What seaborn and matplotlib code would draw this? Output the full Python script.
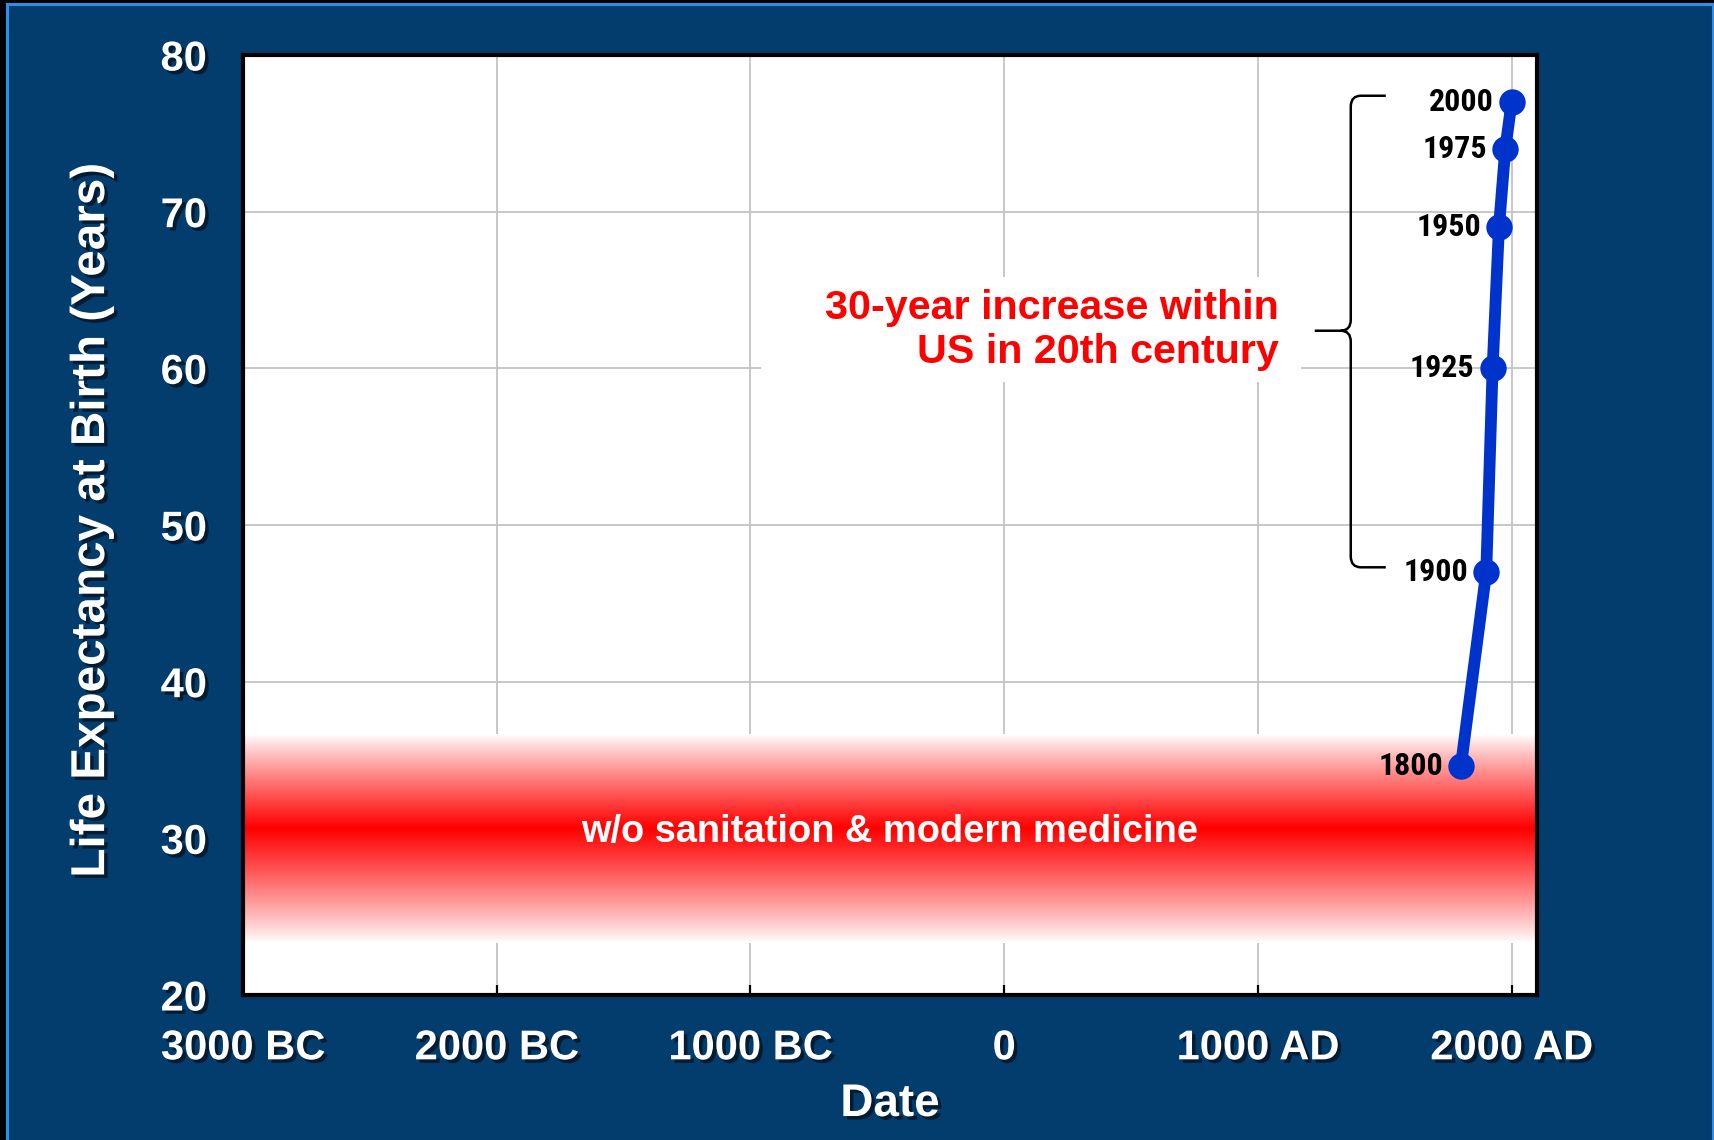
import numpy as np
import matplotlib
matplotlib.use("Agg")
import matplotlib.pyplot as plt
import seaborn as sns
from matplotlib import patheffects as pe
from matplotlib.patches import Rectangle, PathPatch
from matplotlib.path import Path
from matplotlib.colors import LinearSegmentedColormap
import matplotlib.transforms as mtransforms
from matplotlib import font_manager as fm

# ---------------- data ----------------
years = [1800, 1900, 1925, 1950, 1975, 2000]
life_expectancy = [34.6, 47, 60, 69, 74, 77]
point_labels = ["1800", "1900", "1925", "1950", "1975", "2000"]

x_ticks = [-3000, -2000, -1000, 0, 1000, 2000]
x_tick_labels = ["3000 BC", "2000 BC", "1000 BC", "0", "1000 AD", "2000 AD"]
y_ticks = [20, 30, 40, 50, 60, 70, 80]
y_tick_labels = ["20", "30", "40", "50", "60", "70", "80"]

band_low, band_peak, band_high = 23.3, 30.6, 36.6
band_text = "w/o sanitation & modern medicine"
annot_text = "30-year increase within\nUS in 20th century"

# ---------------- style ----------------
sns.set_style("white")
plt.rcParams["font.family"] = ["Liberation Sans", "DejaVu Sans"]
plt.rcParams["font.weight"] = "bold"

names = {f.name for f in fm.fontManager.ttflist}
narrow_fams = [n for n in ["Liberation Sans Narrow", "DejaVu Sans Condensed", "Roboto Condensed",
                           "Open Sans Condensed"] if n in names]
condensed_available = len(narrow_fams) > 0
label_family = narrow_fams[:1] + ["Liberation Sans"]

BG = "#033d6e"
W, H = 1715, 1140
fig = plt.figure(figsize=(W / 100, H / 100), dpi=100, facecolor="black")
bg = Rectangle((7 / W, -0.05), (1713 - 7) / W, (H - 4) / H + 0.05,
               transform=fig.transFigure, facecolor=BG, edgecolor="#2f8fe8",
               linewidth=2.2, zorder=-10)
fig.patches.append(bg)

ax = fig.add_axes([243 / W, 1 - 995 / H, (1537 - 243) / W, (995 - 55) / H])
ax.set_facecolor("white")

ax.grid(True, color="#c4c4c4", linewidth=1.3, zorder=0)
ax.set_axisbelow(True)

# gradient band
yy = np.linspace(band_low, band_high, 400)
t = np.where(yy <= band_peak,
             (yy - band_low) / (band_peak - band_low),
             (band_high - yy) / (band_high - band_peak))
t = np.clip(t, 0, 1) ** 0.9
cmap = LinearSegmentedColormap.from_list("wr", ["#ffffff", "#ff0000"])
ax.imshow(t[:, None], cmap=cmap, vmin=0, vmax=1, origin="lower", aspect="auto",
          extent=[-3000, 2100, band_low, band_high], zorder=1, interpolation="bilinear")
ax.set_xlim(-3000, 2100)
ax.set_ylim(20, 80)

shadow = [pe.withSimplePatchShadow(offset=(2.5, -2.5), shadow_rgbFace="black", alpha=0.55)]

ax.text(0.5, 30.4, band_text, transform=mtransforms.blended_transform_factory(ax.transAxes, ax.transData),
        ha="center", va="center", color="white", fontsize=27.4, fontweight="bold", zorder=2)

# white box behind annotation
ax.add_patch(Rectangle((-957, 59.1), 2126, 6.7, facecolor="white", edgecolor="none", zorder=1.5))
ax.text(1083, 62.45, annot_text, ha="right", va="center", multialignment="right",
        color="#ff0000", fontsize=29.7, fontweight="bold", linespacing=1.2, zorder=2)

# brace
xv, xr, xt = 1366, 1504, 1224
yt, yb, ym = 77.4, 47.3, 62.4
rx, ry = 40, 0.7
verts = [(xr, yt), (xv + rx, yt), (xv, yt), (xv, yt - ry), (xv, ym + ry), (xv, ym), (xv - rx, ym),
         (xt, ym),
         (xv - rx, ym), (xv, ym), (xv, ym - ry), (xv, yb + ry), (xv, yb), (xv + rx, yb), (xr, yb)]
codes = [Path.MOVETO, Path.LINETO, Path.CURVE3, Path.CURVE3, Path.LINETO, Path.CURVE3, Path.CURVE3,
         Path.LINETO,
         Path.MOVETO, Path.CURVE3, Path.CURVE3, Path.LINETO, Path.CURVE3, Path.CURVE3, Path.LINETO]
ax.add_patch(PathPatch(Path(verts, codes), fill=False, edgecolor="black", linewidth=1.8, zorder=5))

# main line
sns.lineplot(x=years, y=life_expectancy, ax=ax, color="#0033cc", linewidth=8.5,
             marker="o", markersize=19, markeredgewidth=0, zorder=4)

label_size = 23 if condensed_available else 21
for x, y, lab in zip(years, life_expectancy, point_labels):
    ax.annotate(lab, (x, y), xytext=(-13, 0), textcoords="offset points", ha="right", va="center",
                fontsize=label_size, fontweight="bold", color="black",
                family=label_family, zorder=6)

# axes styling
for s in ax.spines.values():
    s.set_visible(True)
    s.set_color("black")
    s.set_linewidth(3)
    s.set_zorder(7)

ax.set_xticks(x_ticks)
ax.set_xticklabels(x_tick_labels, color="white", fontsize=30, fontweight="bold", path_effects=shadow)
ax.set_yticks(y_ticks)
ax.set_yticklabels(y_tick_labels, color="white", fontsize=30, fontweight="bold", path_effects=shadow)
ax.tick_params(axis="x", direction="in", length=7, width=1.6, color="black", pad=24, bottom=True)
ax.tick_params(axis="y", length=0, pad=26)

ax.set_xlabel("Date", color="white", fontsize=33, fontweight="bold", va="center", path_effects=shadow)
ax.xaxis.set_label_coords(0.5, -0.116)
ax.set_ylabel("Life Expectancy at Birth (Years)", color="white", fontsize=34.3, fontweight="bold",
              va="center", path_effects=shadow)
ax.yaxis.set_label_coords(-0.117, 0.505)

fig.savefig("out.png", dpi=100, facecolor=fig.get_facecolor())
